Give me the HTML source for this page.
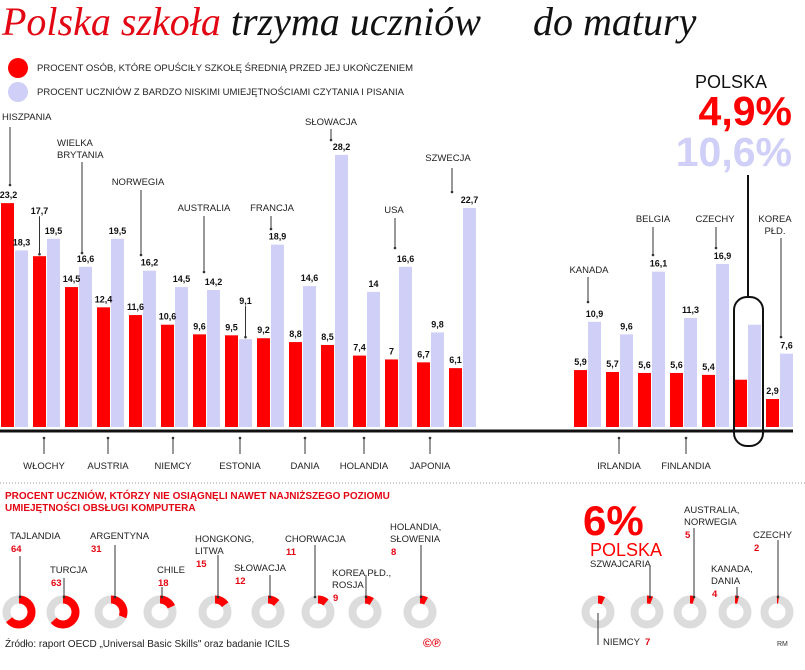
<!DOCTYPE html>
<html><head><meta charset="utf-8"><style>
html,body{margin:0;padding:0;background:#fff;}
svg{display:block;font-family:"Liberation Sans",sans-serif;}
.lbl{font-size:9.5px;fill:#222;}
.val{font-size:9px;font-weight:bold;fill:#111;}
.rv{font-size:9.5px;font-weight:bold;fill:#e30613;}
</style></head><body>
<svg id="c" width="805" height="670" viewBox="0 0 805 670" xmlns="http://www.w3.org/2000/svg">
<defs><marker id="ar" markerWidth="4" markerHeight="4" refX="2" refY="2"><circle cx="2" cy="2" r="1.3" fill="#333"/></marker></defs>
<text x="2" y="35" font-family="Liberation Serif,serif" font-style="italic" font-size="40"><tspan fill="#e30613">Polska szkoła</tspan><tspan fill="#111"> trzyma uczniów</tspan><tspan x="533" fill="#111">do matury</tspan></text>
<g>
<circle cx="18" cy="68" r="10" fill="#ff0000"/>
<text x="37" y="71" font-size="9.5" fill="#222">PROCENT OSÓB, KTÓRE OPUŚCIŁY SZKOŁĘ ŚREDNIĄ PRZED JEJ UKOŃCZENIEM</text>
<circle cx="18" cy="92" r="10" fill="#cfcff8"/>
<text x="37" y="95" font-size="9.5" fill="#222">PROCENT UCZNIÓW Z BARDZO NISKIMI UMIEJĘTNOŚCIAMI CZYTANIA I PISANIA</text>
</g>
<g id="bars"></g>
<g id="ann"></g>
<text x="695" y="88" font-size="18" fill="#111">POLSKA</text>
<text x="792" y="125" text-anchor="end" font-size="41" font-weight="bold" fill="#ff0000">4,9%</text>
<text x="792" y="166" text-anchor="end" font-size="41" font-weight="bold" fill="#cfcff8">10,6%</text>
<line x1="748" y1="175" x2="748" y2="297" stroke="#111" stroke-width="2"/>
<rect x="734" y="297" width="29" height="149" rx="13" fill="none" stroke="#111" stroke-width="2"/>
<line x1="0" y1="483" x2="805" y2="483" stroke="#999" stroke-dasharray="1,2"/>
<text x="5" y="499" font-size="10" font-weight="bold" fill="#e30613">PROCENT UCZNIÓW, KTÓRZY NIE OSIĄGNĘLI NAWET NAJNIŻSZEGO POZIOMU</text>
<text x="5" y="511" font-size="10" font-weight="bold" fill="#e30613">UMIEJĘTNOŚCI OBSŁUGI KOMPUTERA</text>
<g id="donuts"></g>
<text x="583" y="535" font-size="42" font-weight="bold" fill="#ff0000">6%</text>
<text x="590" y="556" font-size="18" fill="#ff0000">POLSKA</text>
<text x="5" y="647" font-size="10" fill="#222">Źródło: raport OECD „Universal Basic Skills" oraz badanie ICILS</text>
<text x="423" y="647" font-size="12" font-weight="bold" fill="#e30613">©℗</text>
<text x="777" y="646" font-size="7" fill="#333">RM</text>
</svg>
<script>
const leftCountries=["HISZPANIA","WŁOCHY","WIELKA BRYTANIA","AUSTRIA","NORWEGIA","NIEMCY","AUSTRALIA","ESTONIA","FRANCJA","DANIA","SŁOWACJA","HOLANDIA","USA","JAPONIA","SZWECJA"];
const leftRed=[23.2,17.7,14.5,12.4,11.6,10.6,9.6,9.5,9.2,8.8,8.5,7.4,7,6.7,6.1];
const leftLav=[18.3,19.5,16.6,19.5,16.2,14.5,14.2,9.1,18.9,14.6,28.2,14,16.6,9.8,22.7];
const rightCountries=["KANADA","IRLANDIA","BELGIA","FINLANDIA","CZECHY","POLSKA","KOREA PŁD."];
const rightRed=[5.9,5.7,5.6,5.6,5.4,4.9,2.9];
const rightLav=[10.9,9.6,16.1,11.3,16.9,10.6,7.6];
const rightShowLabels=[true,true,true,true,true,false,true];
const donutCountries=["TAJLANDIA","TURCJA","ARGENTYNA","CHILE","HONGKONG, LITWA","SŁOWACJA","CHORWACJA","KOREA PŁD., ROSJA","HOLANDIA, SŁOWENIA","NIEMCY","SZWAJCARIA","AUSTRALIA, NORWEGIA","KANADA, DANIA","CZECHY"];
const donutValues=[64,63,31,18,15,12,11,9,8,7,6,5,4,2];

const NS="http://www.w3.org/2000/svg";
const base=427, scale=9.65;
const yS=v=>base-v*scale;
function mk(p,tag,attrs,txt){const e=document.createElementNS(NS,tag);for(const k in attrs)e.setAttribute(k,attrs[k]);if(txt!==undefined)e.textContent=txt;p.appendChild(e);return e;}
const bars=document.getElementById('bars');
function fmt(v){return String(v).replace('.',',');}
// label lifts (px above default) for labels with pointer arrows
const redLift={"WŁOCHY":37};
const lavLift={"ESTONIA":30};
function drawGroup(names,red,lav,x0,showFlags){
  names.forEach((n,i)=>{
    const x=x0+32*i;
    const r=mk(bars,'rect',{x:x,y:yS(red[i]),width:13,height:red[i]*scale,fill:'#ff0000'});
    
    
    const l=mk(bars,'rect',{x:x+14,y:yS(lav[i]),width:13,height:lav[i]*scale,fill:'#cfcff8'});
    
    
    if(!showFlags||showFlags[i]){
      const rl=redLift[n]||0, ll=lavLift[n]||0;
      const t1=mk(bars,'text',{x:i===0&&x0===1?x+7.5:x+6.5,y:yS(red[i])-5-rl,'text-anchor':'middle',class:'val'},fmt(red[i]));
      
      
      const t2=mk(bars,'text',{x:x+20.5,y:yS(lav[i])-5-ll,'text-anchor':'middle',class:'val'},fmt(lav[i]));
      
      
      if(rl){const a=mk(bars,'line',{x1:x+6.5,y1:yS(red[i])-3-rl,x2:x+6.5,y2:yS(red[i])-2,stroke:'#333','marker-end':'url(#ar)'});
        
        }
      if(ll){const a=mk(bars,'line',{x1:x+20.5,y1:yS(lav[i])-3-ll,x2:x+20.5,y2:yS(lav[i])-2,stroke:'#333','marker-end':'url(#ar)'});
        
        }
    }
  });
}
drawGroup(leftCountries,leftRed,leftLav,1,null);
drawGroup(rightCountries,rightRed,rightLav,574,rightShowLabels);
const ax=mk(bars,'line',{x1:0,y1:431,x2:793,y2:431,stroke:'#111','stroke-width':3});



const ann=document.getElementById('ann');
function label(lines,x,y,ax,ay1,ay2,anchor){
  lines.forEach((s,k)=>{const t=mk(ann,'text',{x:x,y:y+k*12,class:'lbl','text-anchor':anchor||'middle'},s);
    
    });
  const l=mk(ann,'line',{x1:ax,y1:ay1,x2:ax,y2:ay2,stroke:'#333','stroke-width':1,'marker-end':'url(#ar)'});
  
  
}
label(["HISZPANIA"],2,120,10,127,185,'start');
label(["WIELKA","BRYTANIA"],57,146,82,162,253,'start');
label(["NORWEGIA"],138,185,141,190,255);
label(["AUSTRALIA"],204,211,204,216,272);
label(["FRANCJA"],272,211,271,216,229);
label(["SŁOWACJA"],331,125,331,129,140);
label(["USA"],394,213,395,218,248);
label(["SZWECJA"],448,161,452,168,192);
label(["KANADA"],589,273,588,277,302);
label(["BELGIA"],653,222,653,227,255);
label(["CZECHY"],715,222,716,227,248);
label(["KOREA","PŁD."],775,222,781,238,337);
const bottom=[["WŁOCHY",44],["AUSTRIA",108],["NIEMCY",173],["ESTONIA",240],["DANIA",305],["HOLANDIA",364],["JAPONIA",430],["IRLANDIA",619],["FINLANDIA",686]];
bottom.forEach(b=>label([b[0]],b[1],469,b[1],454,438));

const dn=document.getElementById('donuts');
const dx=[19,63,111,160,215,268,318,365,420,598,647,690,735,777];
const cy=612,R=12.5,C=2*Math.PI*R;
donutValues.forEach((v,i)=>{
  const g=mk(dn,'g',{});
  
  
  mk(g,'circle',{cx:dx[i],cy:cy,r:R,fill:'none',stroke:'#dcdcdc','stroke-width':8});
  mk(g,'circle',{cx:dx[i],cy:cy,r:R,fill:'none',stroke:'#ff0000','stroke-width':8,'stroke-dasharray':(v/100*C)+' '+C,transform:`rotate(-90 ${dx[i]} ${cy})`});
});
function dl(lines,num,x,y,ax,ay1){
  lines.forEach((s,k)=>{const t=mk(dn,'text',{x:x,y:y+k*12,class:'lbl'},s);
    
    });
  if(num!==null){const t=mk(dn,'text',{x:x+1,y:y+lines.length*12+1,class:'rv'},num);
    
    }
  const l=mk(dn,'line',{x1:ax,y1:ay1,x2:ax,y2:597,stroke:'#333','stroke-width':1,'marker-end':'url(#ar)'});
  
  
}
dl([donutCountries[0]],donutValues[0],10,539,20,556);
dl([donutCountries[1]],donutValues[1],50,573,64,578);
dl([donutCountries[2]],donutValues[2],90,539,115,545);
dl([donutCountries[3]],donutValues[3],157,573,162,587);
dl(["HONGKONG,","LITWA"],donutValues[4],195,542,218,555);
dl([donutCountries[5]],donutValues[5],234,571,270,575);
dl([donutCountries[6]],donutValues[6],285,542,315,545);
dl(["KOREA PŁD.,","ROSJA"],donutValues[7],332,576,366,575);
dl(["HOLANDIA,","SŁOWENIA"],donutValues[8],390,530,421,545);
dl([donutCountries[10]],null,590,567,650,565);
dl(["AUSTRALIA,","NORWEGIA"],donutValues[11],684,513,694,528);
dl([donutCountries[13]],donutValues[13],753,538,778,540);
dl(["KANADA,","DANIA"],donutValues[12],711,572,737,587);
const nl=mk(dn,'line',{x1:598,y1:613,x2:598,y2:645,stroke:'#333','stroke-width':1});


const nt=mk(dn,'text',{x:603,y:645,class:'lbl'},'NIEMCY ');


const nv=mk(dn,'text',{x:645,y:645,class:'rv'},String(donutValues[9]));


</script>
</body></html>
